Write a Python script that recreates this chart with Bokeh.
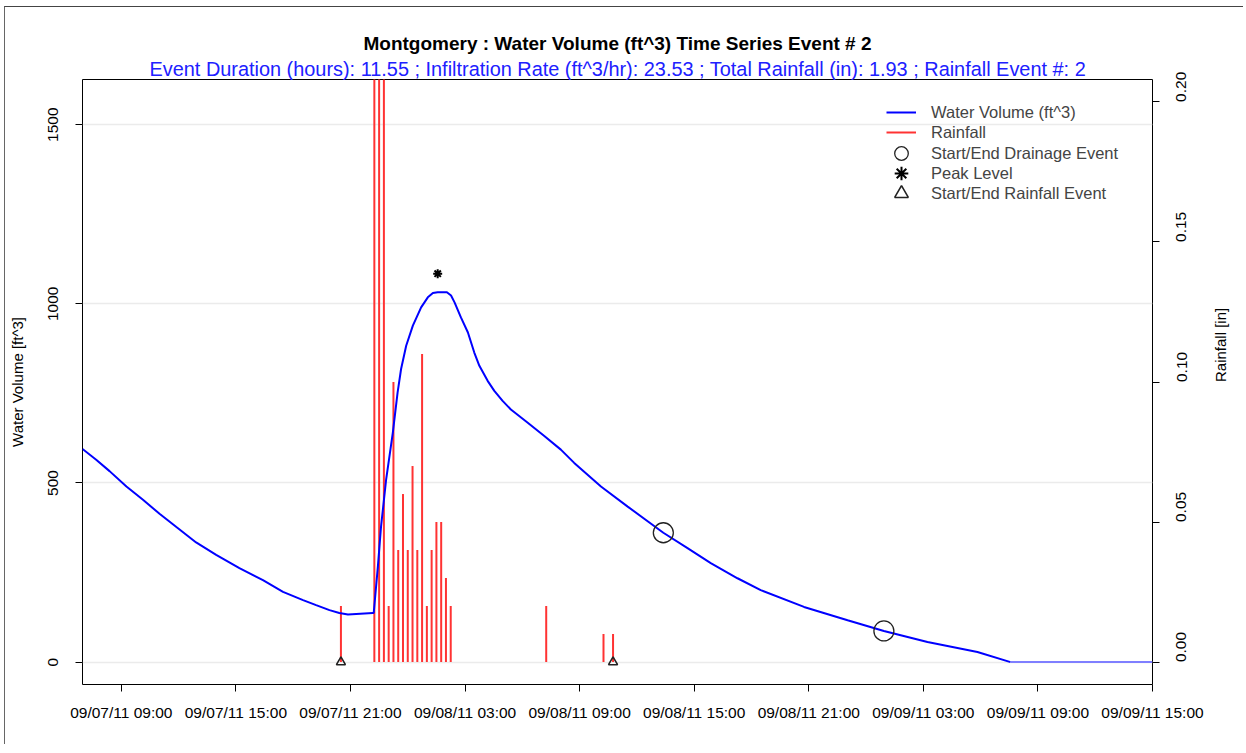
import math
import pandas as pd
from bokeh.plotting import figure
from bokeh.models import (Range1d, LinearAxis, FixedTicker, DatetimeTickFormatter,
                          NumeralTickFormatter, Legend, LegendItem, Title, ColumnDataSource)
from bokeh.embed import file_html
from bokeh.resources import INLINE

FONT = "Liberation Sans"

# ---------------- data ----------------
vol_times = ["2011-09-07 06:58", "2011-09-07 07:41", "2011-09-07 08:23", "2011-09-07 09:16",
             "2011-09-07 10:08", "2011-09-07 11:00", "2011-09-07 11:53", "2011-09-07 12:55",
             "2011-09-07 13:58", "2011-09-07 15:11", "2011-09-07 16:25", "2011-09-07 17:28",
             "2011-09-07 18:31", "2011-09-07 19:12", "2011-09-07 19:54", "2011-09-07 20:25",
             "2011-09-07 20:52", "2011-09-07 22:10", "2011-09-07 22:13", "2011-09-07 22:26",
             "2011-09-07 22:36", "2011-09-07 22:52", "2011-09-07 23:13", "2011-09-07 23:28",
             "2011-09-07 23:39", "2011-09-07 23:55", "2011-09-08 00:16", "2011-09-08 00:42",
             "2011-09-08 01:03", "2011-09-08 01:19", "2011-09-08 01:34", "2011-09-08 02:03",
             "2011-09-08 02:16", "2011-09-08 02:27", "2011-09-08 02:47", "2011-09-08 03:09",
             "2011-09-08 03:29", "2011-09-08 03:45", "2011-09-08 04:11", "2011-09-08 04:32",
             "2011-09-08 04:58", "2011-09-08 05:24", "2011-09-08 06:17", "2011-09-08 07:09",
             "2011-09-08 08:01", "2011-09-08 08:43", "2011-09-08 10:07", "2011-09-08 11:31",
             "2011-09-08 13:23", "2011-09-08 14:39", "2011-09-08 15:52", "2011-09-08 17:16",
             "2011-09-08 18:29", "2011-09-08 20:45", "2011-09-08 23:02", "2011-09-09 00:56",
             "2011-09-09 03:13", "2011-09-09 05:50", "2011-09-09 07:34"]
vol_values = [595, 565, 533, 490, 453, 414, 377, 334, 299, 262, 229, 196,
              173, 159, 145, 137, 133, 137, 137, 266, 378, 509, 640, 752,
              818, 883, 939, 990, 1018, 1030, 1032, 1032, 1023, 1004, 962, 920,
              864, 827, 785, 757, 729, 705, 668, 631, 593, 556, 490, 434,
              361, 318, 276, 234, 201, 154, 117, 87, 56, 28, 0]

flat_times = ["2011-09-09 07:34", "2011-09-09 15:00"]
flat_values = [0, 0]

rain_times = ["2011-09-07 20:30", "2011-09-07 22:15", "2011-09-07 22:30", "2011-09-07 22:45",
              "2011-09-07 23:00", "2011-09-07 23:15", "2011-09-07 23:30", "2011-09-07 23:45",
              "2011-09-08 00:00", "2011-09-08 00:15", "2011-09-08 00:30", "2011-09-08 00:45",
              "2011-09-08 01:00", "2011-09-08 01:15", "2011-09-08 01:30", "2011-09-08 01:45",
              "2011-09-08 02:00", "2011-09-08 02:15", "2011-09-08 07:15", "2011-09-08 10:15",
              "2011-09-08 10:45"]
rain_values = [0.02, 0.40, 0.42, 0.36, 0.02, 0.10, 0.04, 0.06, 0.04, 0.07, 0.04, 0.11,
               0.02, 0.04, 0.05, 0.05, 0.03, 0.02, 0.02, 0.01, 0.01]

drain_times = ["2011-09-08 13:23", "2011-09-09 00:56"]
drain_values = [361, 87]

peak_times = ["2011-09-08 01:34"]
peak_values = [1084]

rain_event_times = ["2011-09-07 20:30", "2011-09-08 10:45"]
rain_event_values = [0, 0]

x_tick_times = ["2011-09-07 09:00", "2011-09-07 15:00", "2011-09-07 21:00", "2011-09-08 03:00",
                "2011-09-08 09:00", "2011-09-08 15:00", "2011-09-08 21:00", "2011-09-09 03:00",
                "2011-09-09 09:00", "2011-09-09 15:00"]
left_ticks = [0, 500, 1000, 1500]
right_ticks = [0.00, 0.05, 0.10, 0.15, 0.20]

legend_labels = ["Water Volume (ft^3)", "Rainfall", "Start/End Drainage Event",
                 "Peak Level", "Start/End Rainfall Event"]

title_text = "Montgomery : Water Volume (ft^3) Time Series Event # 2"
subtitle_text = ("Event Duration (hours):  11.55 ; Infiltration Rate (ft^3/hr):  23.53 ; "
                 "Total Rainfall (in):  1.93 ; Rainfall Event #:  2")

# ---------------- build ----------------
dt = lambda lst: [pd.Timestamp(s) for s in lst]

p = figure(width=1239, height=738, output_backend="svg", toolbar_location=None,
           x_axis_type="datetime",
           x_range=Range1d(pd.Timestamp("2011-09-07 06:58"), pd.Timestamp("2011-09-09 15:00")),
           y_range=Range1d(-62.5, 1626),
           min_border_left=73, min_border_right=92, min_border_top=72, min_border_bottom=61)
p.styles = {"margin-left": "4px", "margin-top": "6px",
            "border-left": "1px solid #666", "border-top": "1px solid #444"}
p.extra_y_ranges = {"rain": Range1d(-0.008, 0.208)}

p.outline_line_color = "black"
p.outline_line_width = 1
p.xgrid.visible = False
p.ygrid.ticker = FixedTicker(ticks=left_ticks)
p.ygrid.grid_line_color = "#ebebeb"
p.ygrid.grid_line_width = 1.5

# axes
xa = p.xaxis[0]
xa.ticker = FixedTicker(ticks=[pd.Timestamp(s).value / 1e6 for s in x_tick_times])
fmt = "%m/%d/%y %H:%M"
xa.formatter = DatetimeTickFormatter(microseconds=fmt, milliseconds=fmt, seconds=fmt,
                                     minsec=fmt, minutes=fmt, hourmin=fmt, hours=fmt,
                                     days=fmt, months=fmt, years=fmt)
ya = p.yaxis[0]
ya.ticker = FixedTicker(ticks=left_ticks)
ya.axis_label = "Water Volume [ft^3]"
ya.major_label_orientation = "vertical"

ra = LinearAxis(y_range_name="rain", ticker=FixedTicker(ticks=right_ticks),
                formatter=NumeralTickFormatter(format="0.00"), axis_label="Rainfall [in]")
ra.major_label_orientation = math.pi / 2
try:
    ra.axis_label_orientation = math.pi / 2   # read bottom-to-top as in the reference
except Exception:
    pass
p.add_layout(ra, "right")

for ax in (xa, ya, ra):
    ax.axis_line_color = None
    ax.major_tick_line_color = "black"
    ax.major_tick_out = 7
    ax.major_tick_in = 0
    ax.minor_tick_line_color = None
    ax.major_label_text_font = FONT
    ax.major_label_text_font_size = "15.5px"
    ax.major_label_text_color = "black"
    ax.axis_label_text_font = FONT
    ax.axis_label_text_font_size = "15px"
    ax.axis_label_text_font_style = "normal"
    ax.axis_label_text_color = "black"
xa.major_label_standoff = 12
ya.major_label_standoff = 17
ya.axis_label_standoff = 20
ra.major_label_standoff = 22
ra.axis_label_standoff = 26

# titles
sub = Title(text=subtitle_text, align="left", offset=67, text_font=FONT,
            text_font_size="19.9px", text_font_style="normal", text_color="#2020ff", standoff=0)
p.add_layout(sub, "above")
p.title.text = title_text
p.title.align = "center"
p.title.text_font = FONT
p.title.text_font_size = "19px"
p.title.text_font_style = "bold"
p.title.text_color = "black"
p.title.standoff = 4

# glyphs
rain_src = ColumnDataSource(dict(t=dt(rain_times), v=rain_values, z=[0] * len(rain_values)))
rain_r = p.segment(x0="t", y0="z", x1="t", y1="v", source=rain_src, y_range_name="rain",
                   line_color="#ff3333", line_width=2)
vol_r = p.line(dt(vol_times), vol_values, line_color="blue", line_width=2)
p.line(dt(flat_times), flat_values, line_color="#7f7fff", line_width=2)
drain_r = p.scatter(dt(drain_times), drain_values, marker="circle", size=20,
                    fill_color=None, line_color="#222222", line_width=1.3)
peak_r = p.scatter(dt(peak_times), peak_values, marker="asterisk", size=9,
                   line_color="black", line_width=2)
rev_r = p.scatter(dt(rain_event_times), rain_event_values, marker="triangle", size=9,
                  fill_color=None, line_color="#222222", line_width=1.6)

# legend: one transparent legend per row so the marker symbols can be drawn larger
legend_renderers = [vol_r, rain_r, drain_r, peak_r, rev_r]
row_bottoms = [562, 542, 514, 494, 474]        # screen offsets from frame bottom
for i, (lab, rr) in enumerate(zip(legend_labels, legend_renderers)):
    is_line = i < 2
    lg = Legend(items=[LegendItem(label=lab, renderers=[rr])],
                location=(804 if is_line else 802, row_bottoms[i]), orientation="vertical")
    lg.border_line_alpha = 0
    lg.background_fill_alpha = 0
    lg.padding = 0
    lg.margin = 0
    lg.glyph_width = 30 if is_line else 34
    lg.glyph_height = 20 if is_line else 34
    lg.label_height = 20
    lg.spacing = 0
    lg.label_standoff = 15 if is_line else 13
    lg.label_text_font = FONT
    lg.label_text_font_size = "16.5px"
    lg.label_text_baseline = "middle"
    p.add_layout(lg, "center")

open("out.html", "w").write(file_html(p, INLINE))
